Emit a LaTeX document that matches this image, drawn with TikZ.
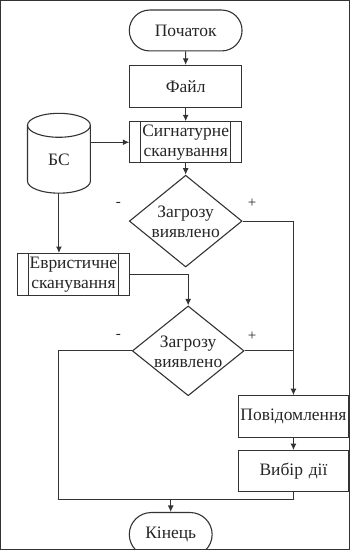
\documentclass[tikz,border=0pt]{standalone}
\usepackage{fontspec}
\setmainfont{Liberation Serif}
\newfontfamily\diagfont{Liberation Serif}
\usetikzlibrary{shapes.misc,shapes.geometric,arrows.meta}
\begin{document}
\begin{tikzpicture}[x=1pt,y=-1pt,
  every path/.style={line width=1.1pt, draw=black!80},
  every node/.style={text=black!85, font=\diagfont\fontsize{17.5}{20}\selectfont},
  term/.style={draw, rounded rectangle, minimum width=113pt, minimum height=41pt, inner sep=0pt},
  proc/.style={draw, rectangle, text width=#1, align=center, minimum height=42pt, inner sep=0pt},
  proc/.default=112pt,
  subproc/.style={proc, path picture={
     \draw ([xshift=11pt]path picture bounding box.north west) -- ([xshift=11pt]path picture bounding box.south west);
     \draw ([xshift=-11pt]path picture bounding box.north east) -- ([xshift=-11pt]path picture bounding box.south east);}},
  decision/.style={draw, diamond, minimum width=113pt, minimum height=92pt, inner sep=0pt},
  dtext/.style={align=center, inner sep=0pt},
  sign/.style={font=\diagfont\fontsize{15}{16}\selectfont, inner sep=0pt},
  arr/.style={-{Latex[length=6.5pt,width=6pt]}}
]
\useasboundingbox (0,0) rectangle (350,550);
% start
\node[term] (start) at (185.5,30) {Початок};
\node[proc] (file) at (185.5,86) {Файл};
\node[subproc, minimum height=41pt] (sig) at (185.5,142) {Сигнатурне\\сканування};
% database cylinder
\draw (27,125) -- (27,181) arc[start angle=180, end angle=360, x radius=31.5pt, y radius=12pt] -- (90,125);
\draw (58.5,125) ellipse[x radius=31.5pt, y radius=12pt];
\node (db) at (58.5,160) {БС};
\coordinate (dbr) at (90,142);
\coordinate (dbb) at (58.5,193);
% decision 1
\node[decision] (d1) at (185.5,221) {};
\node[dtext] (d1t) at (185.5,222) {Загрозу\\виявлено};
% heuristic
\node[subproc] (heur) at (73,274.5) {Евристичне\\сканування};
% decision 2
\node[decision, minimum width=112pt, minimum height=90pt] (d2) at (188,351) {};
\node[dtext] (d2t) at (188,352) {Загрозу\\виявлено};
% right column
\node[proc=111pt] (msg) at (293.5,417) {Повідомлення};
\node[proc=111pt, minimum height=41pt] (act) at (293.5,471.5) {Вибір дії};
% end
\node[term, minimum width=83pt, minimum height=44pt] (end) at (170.5,535) {Кінець};
\coordinate (j1) at (58,500);
% labels
\node[sign] (m1) at (118,204) {-};
\node[sign] (p1) at (252,203) {+};
\node[sign] (m2) at (118,337) {-};
\node[sign] (p2) at (252,336) {+};
% connectors
\draw[arr] (start) -- (file);
\draw[arr] (file) -- (sig);
\draw[arr] (dbr) -- (sig.west |- dbr);
\draw[arr] (sig) -- (d1.north);
\draw[arr] (d1.east) -| (msg.north);
\draw[arr] (dbb) -- (dbb |- heur.north);
\draw[arr] (heur.east) -| (d2.north);
\draw (d2.east) -- (d2.east -| msg.north);
\draw[arr] (msg) -- (act);
\draw (d2.west) -| (j1) -- (j1 -| act.south) -- (act.south);
\draw[arr] (end.north |- j1) -- (end.north);
\end{tikzpicture}
\end{document}
